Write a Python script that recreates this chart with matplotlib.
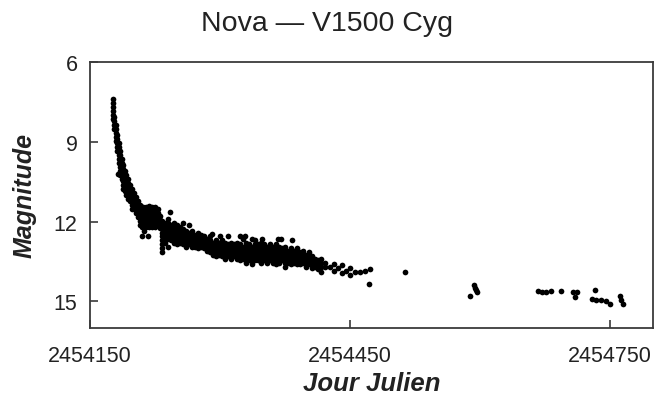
import numpy as np
import matplotlib
matplotlib.use("Agg")
import matplotlib.pyplot as plt

plt.rcParams['font.family'] = ['Liberation Sans', 'DejaVu Sans']

JD0 = 2454000

# Observing nights (JD - 2454000) and the magnitudes measured on each
decline_days = [176.5, 178.2, 180.0, 181.7, 183.5, 182.3, 185.2, 186.9, 188.7, 190.4,
                192.1, 193.8, 196.2, 198.5, 200.8, 203.1, 205.4, 207.7, 210.0, 211.2,
                212.3, 214.6, 216.9, 218.1, 221.5, 225.0, 228.5, 230.8]
decline_mags = [
    [7.39, 7.54, 7.69, 7.84, 7.99, 8.14],
    [8.06, 8.21, 8.36, 8.51],
    [8.36, 8.51, 8.66, 8.81, 8.96],
    [8.74, 8.89, 9.04, 9.19, 9.34],
    [9.04, 9.19, 9.34, 9.49, 9.64, 9.79],
    [10.20],
    [9.34, 9.49, 9.64, 9.79, 9.94, 10.09, 10.24],
    [9.64, 9.79, 9.94, 10.09, 10.24, 10.39],
    [9.86, 10.01, 10.16, 10.31, 10.46, 10.61, 10.76],
    [10.09, 10.24, 10.39, 10.54, 10.69, 10.84],
    [10.24, 10.39, 10.54, 10.69, 10.84, 10.99],
    [10.39, 10.54, 10.69, 10.84, 10.99, 11.14],
    [10.61, 10.76, 10.91, 11.06, 11.21],
    [10.76, 10.91, 11.06, 11.21, 11.36, 11.51],
    [10.91, 11.06, 11.21, 11.36, 11.51],
    [11.06, 11.21, 11.36, 11.51, 11.66],
    [11.21, 11.36, 11.51, 11.66, 11.81],
    [11.36, 11.51, 11.66, 11.81, 11.96, 12.11],
    [11.44, 11.59, 11.74, 11.89, 12.04, 12.19, 12.53],
    [11.44, 11.59, 11.74, 11.89, 12.04, 12.19],
    [12.34],
    [11.44, 11.59, 11.74, 11.89, 12.04, 12.19],
    [12.53],
    [11.42, 11.59, 11.74, 11.89, 12.04, 12.19],
    [11.44, 11.59, 11.74, 11.89, 12.04, 12.19],
    [11.44, 11.59, 11.74, 11.89, 12.04, 12.19],
    [11.51, 11.66, 11.81, 11.96, 12.11],
    [11.78, 11.93, 12.08, 12.23],
]

plateau_days = [233.1, 236.5, 240.0, 242.3, 243.5, 246.9, 250.4, 253.8, 257.3, 260.8,
                264.2, 267.7, 271.2, 274.6, 278.1, 281.5, 285.0, 288.5, 290.8, 291.9,
                295.4, 298.8, 300.0, 302.3, 305.8, 309.2, 312.7, 316.2, 319.6, 323.1,
                326.5, 328.8, 330.0, 333.5, 337.0, 340.4, 343.8, 347.3, 348.5, 350.8,
                354.2, 357.7, 361.2, 364.6, 366.9, 368.1, 370.4, 371.5, 375.0, 378.5,
                381.9, 383.1, 385.4, 388.8, 392.3, 395.8, 399.2, 402.7, 406.2, 409.6,
                413.1, 416.5]
plateau_mags = [
    [11.96, 12.11, 12.26, 12.41, 12.56, 12.71, 12.86, 13.01, 13.16],
    [12.04, 12.19, 12.34, 12.49, 12.64, 12.79],
    [11.89, 12.04, 12.19, 12.34, 12.49, 12.64, 12.94],
    [11.63],
    [12.11, 12.26, 12.41, 12.56, 12.71],
    [12.04, 12.19, 12.34, 12.49, 12.64, 12.79],
    [12.11, 12.26, 12.41, 12.56, 12.71, 12.86],
    [12.19, 12.34, 12.49, 12.64, 12.79],
    [12.04, 12.26, 12.41, 12.56, 12.71, 12.86],
    [12.34, 12.49, 12.64, 12.79, 12.94],
    [12.11, 12.41, 12.56, 12.71, 12.86],
    [12.34, 12.49, 12.64, 12.79, 12.94],
    [12.49, 12.64, 12.79, 12.94],
    [12.41, 12.56, 12.71, 12.86, 13.01],
    [12.49, 12.64, 12.79, 12.94],
    [12.56, 12.71, 12.86, 13.01],
    [12.64, 12.79, 12.94, 13.09],
    [12.56, 12.71, 12.86, 13.01, 13.16],
    [12.45],
    [12.79, 12.94, 13.09, 13.24],
    [12.71, 12.86, 13.01, 13.16, 13.31],
    [12.79, 12.94, 13.09, 13.24],
    [12.53],
    [12.71, 12.86, 13.01, 13.16, 13.31],
    [12.79, 12.94, 13.09, 13.24, 13.39],
    [12.56, 12.86, 13.01, 13.16, 13.31],
    [12.79, 12.94, 13.09, 13.24, 13.39],
    [12.86, 13.01, 13.16, 13.31],
    [12.79, 12.94, 13.09, 13.24, 13.39],
    [12.56, 12.86, 13.01, 13.16, 13.31, 13.46],
    [12.64, 12.94, 13.09, 13.24, 13.39],
    [12.56],
    [12.79, 12.94, 13.09, 13.24, 13.39, 13.54],
    [12.86, 13.01, 13.16, 13.31, 13.46],
    [12.64, 12.94, 13.09, 13.24, 13.39, 13.61],
    [12.71, 12.86, 13.01, 13.16, 13.31, 13.46],
    [12.86, 13.01, 13.16, 13.31, 13.46],
    [12.79, 12.94, 13.09, 13.24, 13.39, 13.54],
    [12.64],
    [12.86, 13.01, 13.16, 13.31, 13.46],
    [12.94, 13.09, 13.24, 13.39, 13.54],
    [12.86, 13.01, 13.16, 13.31, 13.46],
    [12.94, 13.09, 13.24, 13.39, 13.54],
    [12.86, 13.01, 13.16, 13.31, 13.46, 13.61],
    [12.64],
    [12.94, 13.09, 13.24, 13.39, 13.54],
    [12.64],
    [13.01, 13.16, 13.31, 13.46],
    [12.94, 13.09, 13.24, 13.39, 13.54, 13.69],
    [13.09, 13.24, 13.39, 13.54],
    [13.01, 13.16, 13.31, 13.46, 13.61],
    [12.71],
    [13.09, 13.24, 13.39, 13.54],
    [13.01, 13.16, 13.31, 13.46, 13.61],
    [13.16, 13.31, 13.46, 13.61],
    [13.09, 13.24, 13.39, 13.54],
    [13.24, 13.39, 13.54, 13.69],
    [13.16, 13.31, 13.46, 13.61],
    [13.31, 13.46, 13.61, 13.76],
    [13.39, 13.54, 13.69],
    [13.46, 13.61, 13.80],
    [13.39, 13.54, 13.69, 13.88],
]

late_days = [421.2, 426.9, 431.5, 436.2, 440.8, 445.4, 450.0, 455.8, 461.5, 467.3,
             472.0, 473.1]
late_mags = [
    [13.54, 13.69], [13.69], [13.58, 13.84], [13.76], [13.65, 13.95], [13.84],
    [13.76, 13.99], [13.91], [13.88], [13.84], [14.33], [13.80],
]

tail_days = [513.5, 588.5, 593.1, 594.8, 596.2, 597.3, 667.3, 671.9, 677.0, 682.7,
             694.2, 707.3, 709.6, 711.9, 729.6, 732.7, 734.6, 740.4, 746.2, 750.0,
             761.5, 763.1, 765.4]
tail_mags = [13.91, 14.81, 14.40, 14.48, 14.59, 14.66, 14.60, 14.63, 14.63, 14.62,
             14.62, 14.66, 14.85, 14.66, 14.91, 14.58, 14.93, 14.93, 14.99, 15.10,
             14.81, 14.96, 15.10]

x_ticks = [2454150, 2454450, 2454750]
y_ticks = [6, 9, 12, 15]


def expand(days, mags):
    xs, ys = [], []
    for d, ms in zip(days, mags):
        for m in ms:
            xs.append(JD0 + d)
            ys.append(m)
    return xs, ys


jd, mag = [], []
for days, mags in ((decline_days, decline_mags), (plateau_days, plateau_mags),
                   (late_days, late_mags)):
    xs, ys = expand(days, mags)
    jd += xs
    mag += ys
jd += [JD0 + d for d in tail_days]
mag += list(tail_mags)

fig = plt.figure(figsize=(6.68, 4.02), dpi=100)
ax = fig.add_axes([0.1347, 0.1816, 0.8428, 0.6617])

ax.plot(jd, mag, linestyle='none', marker='o', markersize=4.1,
        markerfacecolor='black', markeredgecolor='black', markeredgewidth=0)

ax.set_xlim(2454150, 2454800)
ax.set_ylim(16, 6)
ax.set_xticks(x_ticks)
ax.set_xticklabels([str(t) for t in x_ticks])
ax.set_yticks(y_ticks)
ax.set_yticklabels([str(t) for t in y_ticks])

spine_col = '#3a3a3a'
for s in ax.spines.values():
    s.set_color(spine_col)
    s.set_linewidth(1.3)
ax.tick_params(direction='in', length=6, width=1.2, color=spine_col,
               labelsize=15.5, labelcolor='#222222')
ax.tick_params(axis='x', pad=12)
ax.tick_params(axis='y', pad=9)

ax.set_xlabel('Jour Julien', fontsize=18.5, fontweight='bold', fontstyle='italic',
              color='#222222', labelpad=4)
ax.set_ylabel('Magnitude', fontsize=18, fontweight='bold', fontstyle='italic',
              color='#222222', labelpad=12)

fig.text(0.49, 0.94, 'Nova \u2014 V1500 Cyg', ha='center', va='center',
         fontsize=20.5, color='#222222')

fig.savefig('out.png', dpi=100, facecolor='white')
